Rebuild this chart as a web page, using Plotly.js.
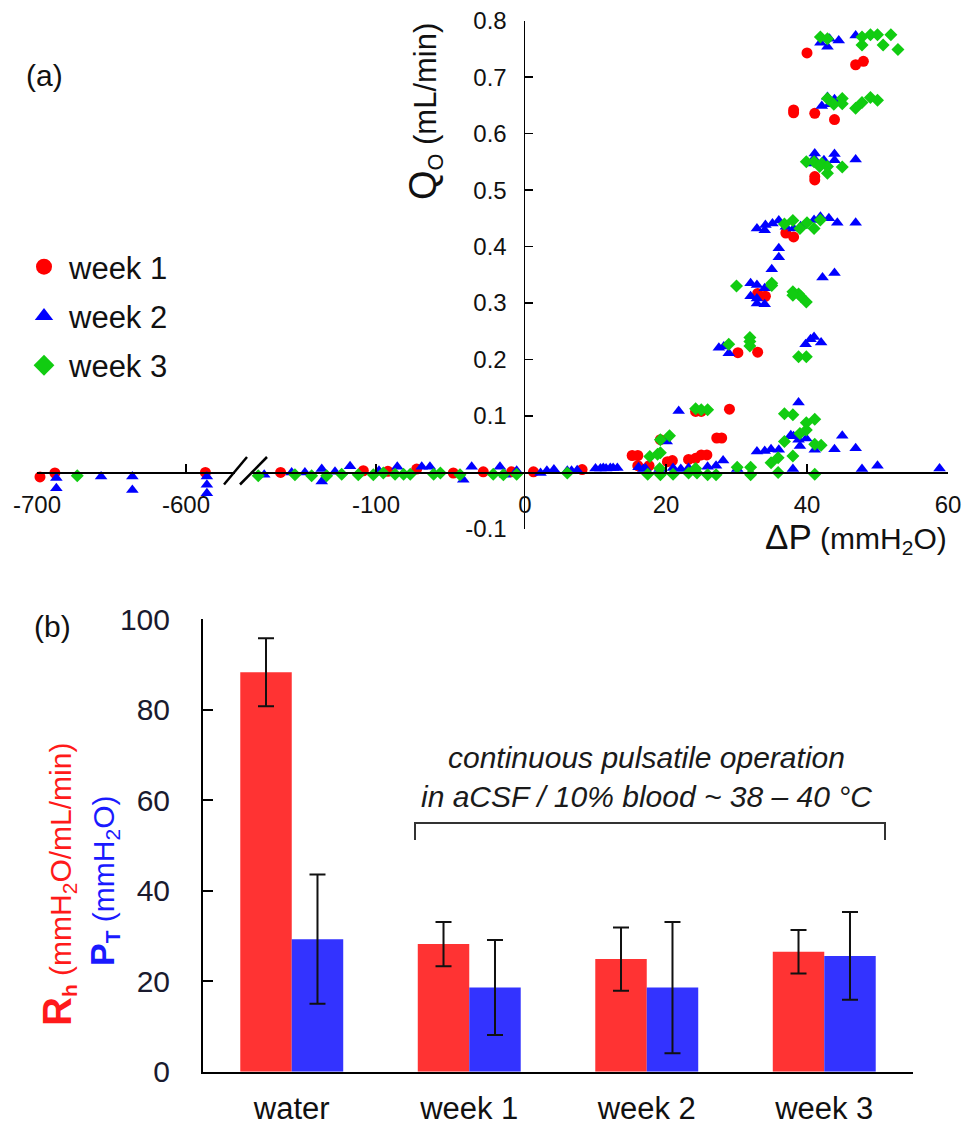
<!DOCTYPE html>
<html><head><meta charset="utf-8">
<script src="https://cdn.plot.ly/plotly-3.0.1.min.js"></script>
<style>html,body{margin:0;padding:0;background:#fff}</style>
</head><body><div id="chart" style="width:963px;height:1127px"></div>
<script>
// ---------- panel (a): flow rate vs pressure ----------
const week1_dp = [-698,-688,-587,-164,-108.5,-92,-72.7,-48.1,-28,-9,
  1.2,8.1,15.2,16.0,16.0,17.6,19.2,20.2,20.9,23.2,24.2,25.0,25.8,27.2,27.9,
  24.2,25.0,29.0,30.2,33.0,33.0,34.1,37.0,38.1,40.0,46.9,48.0,38.1,38.1,41.1,43.9,41.1,41.1];
const week1_q = [-0.008,-0.001,0.0,0.0,0.003,0.002,0.006,-0.001,0.001,0.001,
  0.001,0.005,0.030,0.030,0.012,0.012,0.058,0.019,0.021,0.023,0.025,0.031,0.031,0.061,0.061,
  0.108,0.108,0.112,0.212,0.213,0.317,0.312,0.424,0.417,0.743,0.722,0.728,0.642,0.637,0.636,0.625,0.518,0.524];

const week2_dp = [-687,-687,-657,-636,-636,-586,-586,-586,
  -175,-156.6,-147.7,-136.4,-136.4,-127.5,-117.4,-98,-85.7,-69.3,-63.8,-35.8,-41.4,-16.8,-13.4,-5.6,
  2.2,3.1,4.1,6.0,6.6,7.4,10.0,10.7,11.1,11.5,12.1,12.5,13.1,16.1,16.8,17.1,19.1,20.1,21.0,22.1,23.2,25.9,27.1,28.1,30.1,
  21.8,27.5,28.2,28.9,32.0,32.9,34.0,32.0,32.9,32.9,34.0,
  32.9,34.0,34.9,36.0,37.7,38.1,38.8,39.9,39.0,41.1,43.9,45.0,46.9,38.8,38.0,47.8,50.0,58.8,
  39.8,40.5,41.0,42.0,36.0,36.0,35.0,42.2,43.9,
  32.9,34.1,35.1,36.0,37.0,38.1,39.1,41.0,41.9,43.1,44.3,46.9,34.0,
  41.1,41.0,41.0,42.4,43.9,43.9,46.9,
  42.1,42.9,43.9,43.2,
  41.9,42.9,43.2,44.5,46.9];
const week2_q = [-0.010,-0.028,-0.007,-0.007,-0.031,-0.007,-0.022,-0.037,
  -0.004,0.0,0.0,0.006,-0.016,0.001,0.011,0.003,0.010,0.010,0.010,0.010,-0.013,0.010,-0.004,0.003,
  -0.001,0.003,0.005,0.003,0.003,0.004,0.007,0.007,0.008,0.007,0.008,0.008,0.008,0.009,0.006,0.007,0.006,0.055,0.008,0.006,0.008,0.010,0.012,0.021,0.006,
  0.109,0.221,0.223,0.211,0.335,0.332,0.326,0.312,0.308,0.299,0.298,
  0.037,0.038,0.041,0.040,0.066,0.064,0.058,0.060,0.047,0.040,0.041,0.065,0.043,0.124,0.006,0.006,0.012,0.007,
  0.227,0.236,0.240,0.230,0.397,0.381,0.360,0.345,0.353,
  0.432,0.438,0.441,0.446,0.435,0.432,0.436,0.447,0.453,0.450,0.442,0.442,0.429,
  0.565,0.556,0.547,0.553,0.564,0.553,0.554,
  0.649,0.665,0.661,0.652,
  0.761,0.754,0.768,0.765,0.774];

const week3_dp = [-673,
  -179,-154.4,-143.2,-133.1,-123,-111.9,-101.8,-95.1,-87.2,-81.5,-77.0,-61.3,-56.8,-43.6,-21.3,-14.5,-5.6,
  6.0,17.4,19.2,21.0,23.2,24.4,25.9,27.1,30.1,32.0,32.0,35.9,41.1,19.1,24.2,
  17.7,18.8,19.2,20.5,19.2,35.9,34.9,38.0,36.8,41.1,42.0,39.0,39.9,39.9,41.1,36.8,38.0,
  24.2,25.0,25.9,28.9,31.9,31.9,31.9,38.8,39.9,
  30.0,35.0,35.0,38.0,38.8,39.1,39.9,38.0,
  36.8,38.0,39.0,40.0,41.0,41.9,
  39.9,41.0,42.1,42.9,42.9,45.0,41.8,
  42.9,43.8,45.0,45.0,46.9,47.8,49.0,50.0,
  41.9,42.9,47.8,49.0,50.0,51.9,47.8,50.8,52.9];
const week3_q = [-0.006,
  -0.006,-0.004,-0.006,-0.006,-0.003,-0.004,-0.004,-0.001,-0.003,-0.003,-0.003,-0.003,-0.001,-0.004,-0.003,-0.004,-0.003,
  -0.001,-0.003,-0.004,-0.003,-0.001,-0.001,-0.004,-0.004,0.009,0.009,-0.004,0.000,-0.003,0.007,0.007,
  0.028,0.032,0.035,0.065,0.058,0.026,0.017,0.029,0.055,0.050,0.048,0.069,0.075,0.088,0.094,0.104,0.102,
  0.113,0.111,0.111,0.227,0.239,0.232,0.224,0.205,0.205,
  0.330,0.335,0.331,0.320,0.316,0.312,0.302,0.314,
  0.440,0.446,0.432,0.442,0.432,0.447,
  0.550,0.550,0.547,0.542,0.530,0.541,0.542,
  0.662,0.652,0.662,0.653,0.645,0.655,0.664,0.659,
  0.771,0.768,0.771,0.775,0.775,0.775,0.757,0.757,0.749];

const xTickVals1 = [-700,-600], xTickVals2 = [-100], xTickVals3 = [0,20,40,60];
const yTickVals = [-0.1,0.1,0.2,0.3,0.4,0.5,0.6,0.7,0.8];
const yTickText = ['-0.1','0.1','0.2','0.3','0.4','0.5','0.6','0.7','0.8'];

// ---------- panel (b): bars ----------
const barCategories = ['water','week 1','week 2','week 3'];
const rh_values = [88.3,28.2,24.9,26.5];
const rh_errors = [7.5,4.9,7.0,4.8];
const pt_values = [29.3,18.6,18.6,25.6];
const pt_errors = [14.3,10.5,14.5,9.7];
const barTickVals = [0,20,40,60,80,100];

// ---------- layout helpers ----------
const W = 963, H = 1127;
const px = v => v / W, py = v => 1 - v / H;
const FONT = 'Liberation Sans, Arial, sans-serif';
const segs = [
  {ax:'x',  key:'xaxis',  range:[-700,-567], dom:[37,235.2], ticks:xTickVals1},
  {ax:'x2', key:'xaxis2', range:[-183,0],    dom:[252.3,525], ticks:xTickVals2},
  {ax:'x3', key:'xaxis3', range:[0,60],      dom:[525,948],  ticks:xTickVals3}
];
const segOf = dp => dp < -400 ? 0 : (dp < 0 ? 1 : 2);

const weeks = [
  {name:'week 1', dp:week1_dp, q:week1_q, symbol:'circle', size:11, color:'#ff0000'},
  {name:'week 2', dp:week2_dp, q:week2_q, symbol:'triangle-up', size:11, color:'#0000ff'},
  {name:'week 3', dp:week3_dp, q:week3_q, symbol:'diamond', size:10, color:'#11cc11'}
];

const traces = [];
weeks.forEach((w, wi) => {
  segs.forEach((s, si) => {
    const xs = [], ys = [];
    w.dp.forEach((d, i) => { if (segOf(d) === si) { xs.push(d); ys.push(w.q[i]); } });
    traces.push({
      type:'scatter', mode:'markers', x:xs, y:ys, xaxis:s.ax, yaxis:'y',
      name:w.name, legendgroup:w.name, showlegend:false,
      marker:{symbol:w.symbol, size:w.size, color:w.color, line:{width:0}},
      cliponaxis:false, hoverinfo:'x+y'
    });
  });
  // legend entry (bigger symbol, no data of its own)
  traces.push({
    type:'scatter', mode:'markers', x:[null], y:[null], xaxis:'x3', yaxis:'y',
    name:w.name, legendgroup:w.name, showlegend:true,
    marker:{symbol:w.symbol, size:22, color:w.color, line:{width:0}}
  });
});

traces.push({
  type:'bar', x:barCategories, y:rh_values, xaxis:'x4', yaxis:'y2', name:'Rh', showlegend:false,
  marker:{color:'#ff3333', line:{width:0}},
  error_y:{type:'data', array:rh_errors, visible:true, color:'#111', thickness:2, width:8}
});
traces.push({
  type:'bar', x:barCategories, y:pt_values, xaxis:'x4', yaxis:'y2', name:'PT', showlegend:false,
  marker:{color:'#3333ff', line:{width:0}},
  error_y:{type:'data', array:pt_errors, visible:true, color:'#111', thickness:2, width:8}
});

const layout = {
  width:W, height:H, margin:{l:0,r:0,t:0,b:0}, paper_bgcolor:'#fff', plot_bgcolor:'rgba(0,0,0,0)',
  font:{family:FONT, color:'#111'},
  barmode:'group', bargap:0.42, bargroupgap:0,
  legend:{x:px(19), y:py(240), xanchor:'left', yanchor:'top', font:{size:31, color:'#111', family:FONT},
          itemwidth:40, tracegroupgap:6, bgcolor:'rgba(0,0,0,0)', itemsizing:'trace'},
  yaxis:{domain:[py(528.9), py(20.7)], range:[-0.1,0.8], anchor:'x3', side:'left',
         showline:true, linecolor:'#000', linewidth:1.5, ticks:'inside', ticklen:8, tickwidth:1.5, tickcolor:'#000',
         tickvals:yTickVals, ticktext:yTickText, tickfont:{size:24, color:'#111'}, ticklabelstandoff:12,
         showgrid:false, zeroline:false, fixedrange:true},
  xaxis4:{domain:[px(203), px(913)], anchor:'y2', type:'category', range:[-0.5,3.5],
          showline:true, linecolor:'#000', linewidth:2, ticks:'', tickfont:{size:31, color:'#111'},
          ticklabelstandoff:8, showgrid:false, zeroline:false, fixedrange:true},
  yaxis2:{domain:[py(1071.7), py(619.3)], anchor:'x4', range:[0,100],
          showline:true, linecolor:'#000', linewidth:2, ticks:'inside', ticklen:10, tickwidth:2, tickcolor:'#000',
          tickvals:barTickVals, tickfont:{size:30, color:'#1a1a2e'}, ticklabelstandoff:25,
          showgrid:false, zeroline:false, fixedrange:true},
  shapes:[
    {type:'line', xref:'paper', yref:'paper', x0:px(224), y0:py(484.5), x1:px(247), y1:py(457), line:{color:'#000', width:2.5}},
    {type:'line', xref:'paper', yref:'paper', x0:px(240), y0:py(484.5), x1:px(267), y1:py(457), line:{color:'#000', width:2.5}},
    {type:'path', xref:'paper', yref:'paper',
     path:`M ${px(415)} ${py(840)} L ${px(415)} ${py(823)} L ${px(885)} ${py(823)} L ${px(885)} ${py(840)}`,
     line:{color:'#333', width:2}}
  ],
  annotations:[
    {xref:'paper', yref:'paper', x:px(24), y:py(75), xanchor:'left', yanchor:'middle', showarrow:false,
     text:'(a)', font:{size:30, color:'#111'}},
    {xref:'paper', yref:'paper', x:px(32), y:py(626), xanchor:'left', yanchor:'middle', showarrow:false,
     text:'(b)', font:{size:30, color:'#111'}},
    {xref:'paper', yref:'paper', x:px(425), y:py(112), xanchor:'center', yanchor:'middle', showarrow:false, textangle:-90,
     text:'<span style="font-size:38px">Q</span><sub>O</sub> (mL/min)', font:{size:31, color:'#111'}},
    {xref:'paper', yref:'paper', x:px(949), y:py(538), xanchor:'right', yanchor:'middle', showarrow:false,
     text:'<span style="font-size:35px">ΔP</span> (mmH<sub>2</sub>O)', font:{size:30, color:'#111'}},
    {xref:'paper', yref:'paper', x:px(58), y:py(885), xanchor:'center', yanchor:'middle', showarrow:false, textangle:-90,
     text:'<b><span style="font-size:40px">R</span><sub>h</sub></b> (mmH<sub>2</sub>O/mL/min)', font:{size:30, color:'#ff1a1a'}},
    {xref:'paper', yref:'paper', x:px(103), y:py(881), xanchor:'center', yanchor:'middle', showarrow:false, textangle:-90,
     text:'<b><span style="font-size:34px">P</span><sub>T</sub></b> (mmH<sub>2</sub>O)', font:{size:30, color:'#1a1aff'}},
    {xref:'paper', yref:'paper', x:px(646), y:py(777), xanchor:'center', yanchor:'middle', showarrow:false,
     text:'<i>continuous pulsatile operation<br>in aCSF / 10% blood ~ 38 – 40 °C</i>', font:{size:30, color:'#1a1a1a'}}
  ]
};

segs.forEach(s => {
  layout[s.key] = {
    domain:[px(s.dom[0]), px(s.dom[1])], range:s.range, anchor:'free', position:py(472.4),
    showline:true, linecolor:'#000', linewidth:1.5, ticks:'inside', ticklen:8, tickwidth:1.5, tickcolor:'#000',
    tickvals:s.ticks, ticktext:s.ticks.map(v => String(v)), tickfont:{size:24, color:'#111'},
    ticklabelstandoff:10, showgrid:false, zeroline:false, fixedrange:true
  };
});

Plotly.newPlot('chart', traces, layout, {displayModeBar:false, staticPlot:true});
</script>
</body></html>
